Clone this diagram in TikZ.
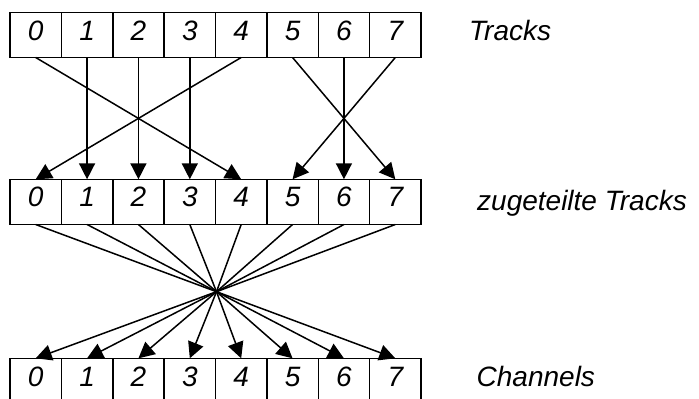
\documentclass[tikz,border=0pt]{standalone}
\usepackage{fontspec}
\setmainfont{Liberation Sans}
\usetikzlibrary{arrows.meta}
\begin{document}
\begin{tikzpicture}[x=1pt,y=-1pt,
  cell/.style={draw,line width=1.5pt,minimum width=51.375pt,minimum height=45.2pt,inner sep=0pt,outer sep=0pt,anchor=north west},
  dig/.style={font=\fontsize{28}{32}\selectfont\itshape,anchor=base,inner sep=0pt},
  lab/.style={font=\fontsize{28}{32}\selectfont\itshape,anchor=base west,inner sep=0pt},
  conn/.style={line width=1.5pt},
  arr/.style={conn,-{Triangle[length=16pt,width=16pt]}}]
\useasboundingbox (0,0) rectangle (699,399);
\clip (0,0) rectangle (699,399);
\foreach \i in {0,...,7}{
  \node[cell] (t\i) at ({10+51.375*\i},12.3) {};
  \node[dig] (td\i) at ([yshift=-28.5pt]t\i.north) {\i};
  \node[cell] (m\i) at ({10+51.375*\i},179.3) {};
  \node[dig] (md\i) at ([yshift=-27.4pt]m\i.north) {\i};
  \node[cell] (b\i) at ({10+51.375*\i},358.3) {};
  \node[dig] (bd\i) at ([yshift=-28.4pt]b\i.north) {\i};
}
\node[lab] (l1) at (469,40) {Tracks};
\node[lab] (l2) at (477,210) {zugeteilte Tracks};
\node[lab] (l3) at (476.5,386.7) {Channels};
\draw[arr] (t0.south) -- (m4.north);
\draw[arr] (t4.south) -- (m0.north);
\draw[arr] (t1.south) -- (m1.north);
\draw[arr] (t2.south) -- (m2.north);
\draw[arr] (t3.south) -- (m3.north);
\draw[arr] (t5.south) -- (m7.north);
\draw[arr] (t7.south) -- (m5.north);
\draw[arr] (t6.south) -- (m6.north);
\coordinate (hub) at (216.5,291.7);
\foreach \i in {0,...,7}{
  \draw[conn] (m\i.south) -- (hub);
  \draw[arr] (hub) -- (b\i.north);
}
\end{tikzpicture}
\end{document}
